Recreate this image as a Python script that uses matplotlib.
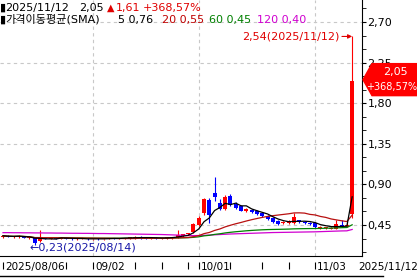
import numpy as np
import pandas as pd
import matplotlib
matplotlib.use("Agg")
import matplotlib.pyplot as plt
import matplotlib.transforms as mtransforms
from matplotlib.patches import Polygon
from matplotlib.lines import Line2D

plt.rcParams['font.family'] = ['DejaVu Sans', 'Noto Sans CJK KR']
plt.rcParams['font.size'] = 8

# daily candles, 2025/08/06 .. 2025/11/12
opens = [.32, .33, .32, .32, .33, .31, .31, .27, .31, .30, .31, .30, .31, .30, .29, .30, .30, .29, .30, .29,
         .30, .31, .30, .30, .31, .31, .32, .31, .30, .31, .30, .31, .31, .32, .33, .35, .37, .45, .58, .73,
         .80, .69, .63, .77, .68, .66, .60, .62, .61, .58, .55, .53, .49, .47, .47, .47, .50, .48, .47, .47,
         .42, .42, .41, .41, .45, .44, .57]
highs = [.34, .34, .33, .34, .33, .32, .31, .39, .32, .32, .32, .31, .32, .31, .31, .31, .31, .30, .31, .30,
         .31, .31, .31, .31, .32, .33, .33, .32, .32, .32, .31, .32, .32, .39, .35, .36, .47, .55, .75, .75,
         .98, .74, .78, .79, .70, .67, .64, .63, .62, .59, .56, .54, .50, .49, .50, .58, .51, .49, .48, .48,
         .44, .43, .43, .50, .50, .47, 2.54]
lows = [.31, .32, .31, .31, .31, .30, .23, .26, .29, .29, .29, .29, .29, .28, .28, .29, .28, .28, .28, .28,
        .29, .29, .29, .29, .30, .30, .30, .30, .29, .30, .29, .30, .30, .31, .32, .34, .36, .44, .56, .47,
        .72, .62, .62, .66, .63, .60, .59, .58, .56, .54, .51, .47, .45, .46, .46, .46, .47, .46, .45, .42,
        .41, .41, .40, .40, .43, .43, .53]
closes = [.33, .32, .32, .33, .31, .31, .25, .31, .30, .31, .30, .31, .30, .29, .30, .30, .29, .30, .29, .30,
          .31, .30, .30, .31, .31, .32, .31, .30, .31, .30, .31, .31, .32, .34, .35, .35, .46, .53, .74, .56,
          .76, .63, .76, .67, .64, .61, .63, .59, .57, .55, .52, .48, .46, .48, .49, .54, .48, .47, .46, .43,
          .43, .42, .42, .46, .44, .44, 2.05]
# 120-day average depends on history before the window
ma120 = [.365, .365, .364, .364, .363, .363, .362, .362, .361, .361, .360, .360, .359, .358, .358, .357,
         .357, .356, .355, .355, .354, .353, .352, .351, .350, .349, .348, .347, .346, .345, .344, .342,
         .340, .338, .336, .334, .332, .333, .335, .338, .341, .344, .347, .350, .352, .354, .356, .358,
         .360, .362, .364, .366, .367, .368, .369, .370, .371, .372, .373, .374, .376, .378, .380, .382,
         .384, .385, .400]

tick_idx = [0, 12, 17, 25, 30, 35, 37, 43, 49, 54, 59]
label_idx = [0, 17, 37, 59]
label_txt = ['2025/08/06', '09/02', '10/01', '11/03']
yticks = [0.45, 0.90, 1.35, 1.80, 2.25, 2.70]

o = np.array(opens); h = np.array(highs); l = np.array(lows); c = np.array(closes)
x = np.arange(len(c))
s = pd.Series(c)
ma5 = s.rolling(5, min_periods=1).mean()
ma20 = s.rolling(20, min_periods=1).mean()
ma60 = s.rolling(60, min_periods=1).mean()

fig = plt.figure(figsize=(4.17, 2.78), dpi=100)
ax = fig.add_axes([0, 22 / 278, 362 / 417, 256 / 278])

up = c >= o
cols = np.where(up, '#ff0000', '#0000ff')
ax.vlines(x, l, h, colors=cols, lw=0.8, zorder=2)
body = np.maximum(np.abs(c - o), 0.006)
ax.bar(x, body, bottom=np.minimum(o, c), width=0.76, color=cols, lw=0, zorder=3)

ax.plot(x, ma120, color='#d000d0', lw=0.9, zorder=4)
ax.plot(x, ma60, color='#008000', lw=0.9, zorder=4)
ax.plot(x, ma20, color='#b81010', lw=0.9, zorder=4)
ax.plot(x, ma5, color='black', lw=0.9, zorder=4)

ax.set_xlim(-0.57, 67.86)
ax.set_ylim(0.106, 2.944)

# grid
for yv in yticks:
    ax.axhline(yv, color='#c8c8c8', lw=0.8, ls=(0, (3, 3)), zorder=0)
for xi in label_idx[1:]:
    ax.axvline(xi, color='#c8c8c8', lw=0.8, ls=(0, (3, 3)), zorder=0)

# axes look
for sp in ['top', 'left']:
    ax.spines[sp].set_visible(False)
ax.spines['right'].set_color('black')
ax.spines['bottom'].set_color('black')
ax.yaxis.tick_right()
ax.set_yticks(yticks)
ax.set_yticklabels([f"{v:.2f}".replace('.', ',') for v in yticks])
ax.set_yticks(np.arange(0.15, 2.95, 0.15), minor=True)
ax.tick_params(axis='y', which='major', length=3, pad=1, labelsize=8)
ax.tick_params(axis='y', which='minor', length=3)
ax.set_xticks([])

# x ticks and labels under the axis
tr = ax.get_xaxis_transform()
ax.vlines(tick_idx, -0.024, -0.052, transform=tr, colors='black', lw=0.8, clip_on=False)
off = mtransforms.ScaledTranslation(2 / 100, 0, fig.dpi_scale_trans)
for xi, t in zip(label_idx, label_txt):
    ax.text(xi, -0.043, t, transform=tr + off, ha='left', va='center', fontsize=7.5)
fig.text(358 / 417, 1 - 267 / 278, '2025/11/12', ha='left', va='center', fontsize=7.5)
fig.add_artist(Line2D([0, 383 / 417], [2.5 / 278, 2.5 / 278], color='black', lw=1))

# high / low notes
ax.annotate('2,54(2025/11/12)', xy=(x[-1], h[-1]), xytext=(-13, 0), textcoords='offset pixels',
            ha='right', va='center', color='#e00000', fontsize=8,
            arrowprops=dict(arrowstyle='-|>', color='#e00000', lw=0.8, shrinkA=0, shrinkB=0,
                            mutation_scale=6))
ax.annotate('\u21900,23(2025/08/14)', xy=(6, l[6]), xytext=(-5, -3), textcoords='offset pixels',
            ha='left', va='center', color='#1818a8', fontsize=8)

# last price box on the right
fig.canvas.draw()
yd = ax.transData.transform((0, c[-1]))[1]
box = Polygon([(363, yd + 1), (372, yd + 17), (417, yd + 17), (417, yd - 15), (372, yd - 15)],
              closed=True, color='#ff0000', transform=mtransforms.IdentityTransform())
fig.add_artist(box)
fig.text(395 / 417, (yd + 8.5) / 278, '2,05', color='white', ha='center', va='center', fontsize=8)
fig.text(366 / 417, (yd - 6.5) / 278, '+368,57%', color='white', ha='left', va='center', fontsize=7)

# legend lines at top
row1 = [('\u25ae', 0, 'black', 8), ('2025/11/12', 5, 'black', 8), ('2,05', 79, 'black', 8),
        ('\u25b2', 107, '#e00000', 7), ('1,61', 116, '#e00000', 8), ('+368,57%', 143, '#e00000', 8)]
row2 = [('\u25ae', 0, 'black', 8), ('가격이동평균(SMA)', 5, 'black', 8), ('5 0,76', 118, 'black', 8),
        ('20 0,55', 162, '#c00000', 8), ('60 0,45', 209, '#008000', 8), ('120 0,40', 257, '#d000d0', 8)]
for row, yp in [(row1, 7.5), (row2, 19.5)]:
    for t, xp, col, fs in row:
        fig.text(xp / 417, 1 - yp / 278, t, color=col, ha='left', va='center', fontsize=fs)

fig.savefig('out.png', dpi=100)
